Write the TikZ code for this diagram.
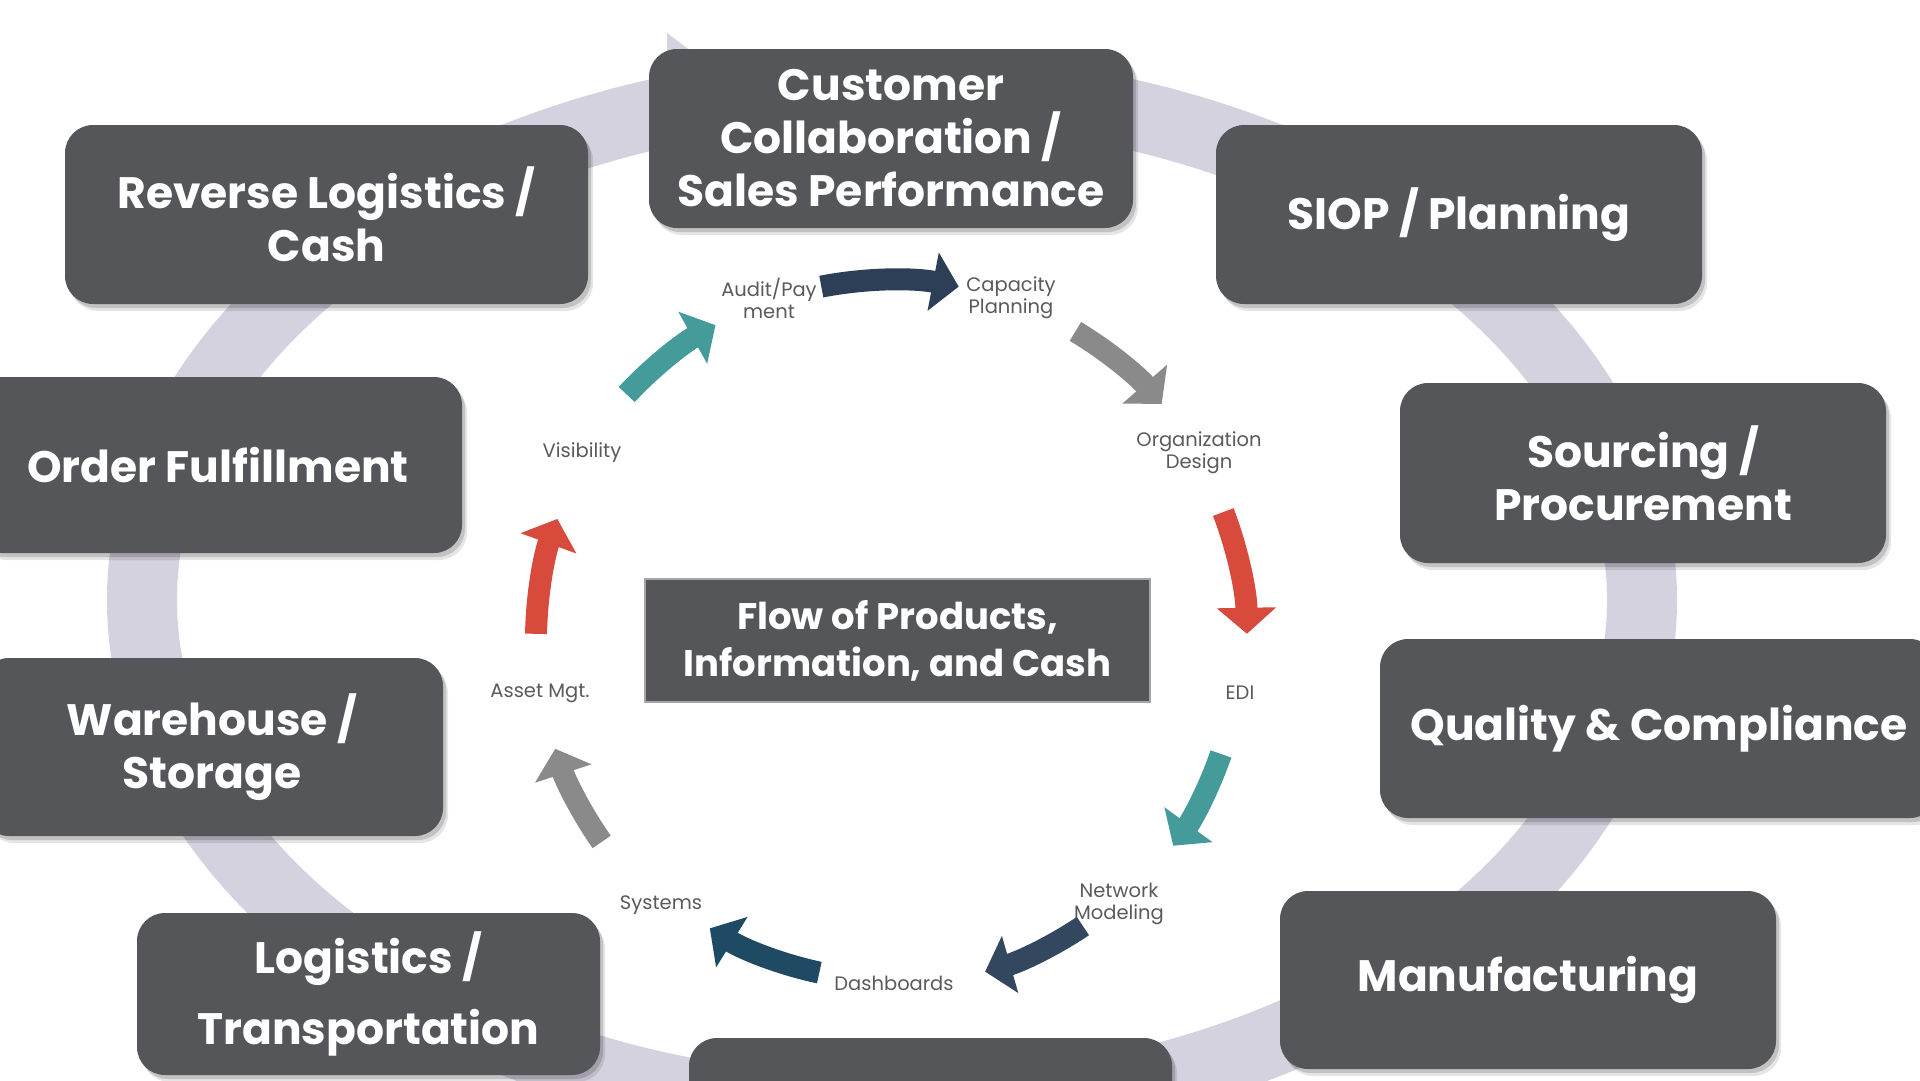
\documentclass[tikz,border=0pt]{standalone}
\usepackage{fontspec}
\setmainfont{Poppins}
\usetikzlibrary{arrows.meta,calc}
\definecolor{boxc}{HTML}{54565A}
\definecolor{ringc}{HTML}{D5D2DF}
\definecolor{navyA}{HTML}{2C3F57}
\definecolor{navyB}{HTML}{33475F}
\definecolor{navyC}{HTML}{1F4A63}
\definecolor{grayA}{HTML}{8A8A8A}
\definecolor{redA}{HTML}{D84A3B}
\definecolor{tealA}{HTML}{459A9A}
\definecolor{labc}{HTML}{5A5A5A}
\begin{document}
\begin{tikzpicture}[x=1pt,y=-1pt,
  box/.style={fill=boxc, rounded corners=28pt, text=white, align=center, inner sep=0pt,
    font=\bfseries\fontsize{44}{53}\selectfont,
    preaction={fill=black, fill opacity=0.10, transform canvas={shift={(5pt,-7pt)}}},
    preaction={fill=black, fill opacity=0.15, transform canvas={shift={(3pt,-4pt)}}}},
  lab/.style={text=labc, align=center, font=\fontsize{19.5}{22}\selectfont, inner sep=0pt},
  flow/.style={line width=22pt, -{Triangle[width=58pt,length=26pt]}},
]
\useasboundingbox (0,0) rectangle (1920,1080);
\clip (0,0) rectangle (1920,1080);
\fill[white] (0,0) rectangle (1920,1080);

% outer ring
\draw[ringc, line width=70pt] (892,600) ellipse [x radius=750, y radius=512];
\fill[ringc] (667,33) -- (770,110) -- (667,190) -- cycle;

% boxes
\node[box, minimum width=484pt, minimum height=179pt] (cust) at (891,138.5) {Customer\\Collaboration /\\Sales Performance};
\node[box, minimum width=523pt, minimum height=179pt] (rev) at (326.5,214.5) {Reverse Logistics /\\Cash};
\node[box, minimum width=486pt, minimum height=179pt] (siop) at (1459,214.5) {SIOP / Planning};
\node[box, minimum width=488pt, minimum height=176pt] (order) at (218,465) {Order Fulfillment};
\node[box, minimum width=486pt, minimum height=180pt] (src) at (1643,473) {Sourcing /\\Procurement};
\node[box, minimum width=462pt, minimum height=178pt] (ware) at (212,747) {Warehouse /\\Storage};
\node[box, minimum width=558pt, minimum height=179pt] (qual) at (1659,728.5) {Quality \& Compliance};
\node[box, minimum width=463pt, minimum height=162pt] (logi) at (368.5,994) {Logistics /\\[18pt]Transportation};
\node[box, minimum width=496pt, minimum height=178pt] (manu) at (1528,980) {Manufacturing};
\node[box, minimum width=483pt, minimum height=179pt] (bot) at (930.5,1127.5) {};

% center box
\node[fill=boxc, draw=gray!70, line width=1.5pt, minimum width=505pt, minimum height=123pt,
  text=white, align=center, inner sep=0pt, font=\bfseries\fontsize{37}{47}\selectfont]
  (flowbox) at (897.5,640.5) {Flow of Products,\\Information, and Cash};

% inner cycle labels
\node[lab] (l1) at (769,298) {Audit/Pay\\ment};
\node[lab] (l2) at (1011,298) {Capacity\\Planning};
\node[lab] (l3) at (1199,453) {Organization\\Design};
\node[lab] (l4) at (1240,693) {EDI};
\node[lab] (l5) at (1119,904) {Network\\Modeling};
\node[lab] (l6) at (894,983) {Dashboards};
\node[lab] (l7) at (661,905) {Systems};
\node[lab] (l8) at (540,693) {Asset Mgt.};
\node[lab] (l9) at (582,453) {Visibility};

% curved arrows
\coordinate (ctr) at (890,640);
\draw[flow, navyA] ([shift={(-101:360)}]ctr) arc [start angle=-101, end angle=-79, radius=360];
\draw[flow, grayA] ([shift={(-59:360)}]ctr) arc [start angle=-59, end angle=-41, radius=360];
\draw[flow, redA]  ([shift={(-21:357)}]ctr) arc [start angle=-21, end angle=-1, radius=357];
\draw[flow, tealA] ([shift={(19:350)}]ctr) arc [start angle=19, end angle=36, radius=350];
\draw[flow, navyB] ([shift={(56:345)}]ctr) arc [start angle=56, end angle=74, radius=345];
\draw[flow, navyC] ([shift={(102:340)}]ctr) arc [start angle=102, end angle=122, radius=340];
\draw[flow, grayA] ([shift={(145:352)}]ctr) arc [start angle=145, end angle=162, radius=352];
\draw[flow, redA]  ([shift={(181:354)}]ctr) arc [start angle=181, end angle=200, radius=354];
\draw[flow, tealA] ([shift={(223:360)}]ctr) arc [start angle=223, end angle=241, radius=360];
\end{tikzpicture}
\end{document}
